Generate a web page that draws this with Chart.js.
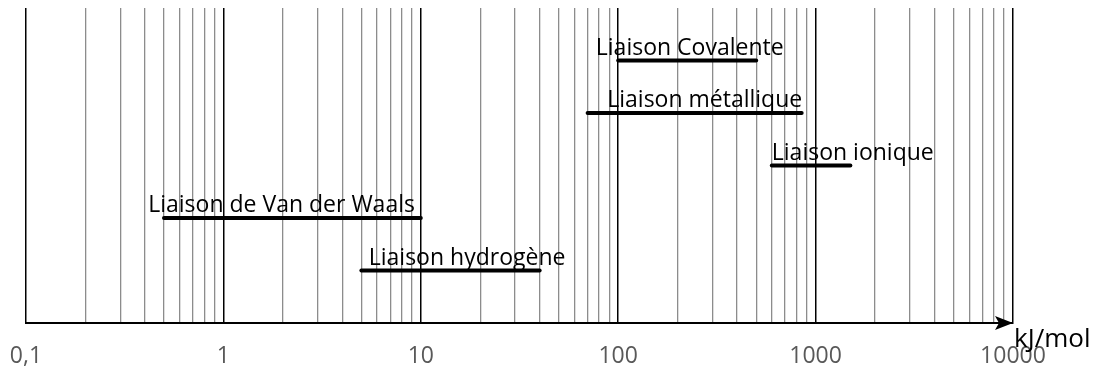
<!DOCTYPE html>
<html>
<head>
<meta charset="utf-8">
<script src="https://cdn.jsdelivr.net/npm/chart.js@4.4.1/dist/chart.umd.min.js"></script>
<style>
  html, body { margin: 0; padding: 0; background: #fff; }
  #wrap { width: 1097px; height: 372px; }
</style>
</head>
<body>
<div id="wrap"><canvas id="chart"></canvas></div>
<script>
// ===== Energies de liaison (kJ/mol) =====
const bondNames = ['Liaison Covalente', 'Liaison métallique', 'Liaison ionique', 'Liaison de Van der Waals', 'Liaison hydrogène'];
const bondMin = [100, 70, 600, 0.5, 5];
const bondMax = [500, 850, 1500, 10, 40];
const bondRow = [5, 4, 3, 2, 1];
// where each label starts, in kJ/mol
const labelAt = [77, 88, 600, 0.416, 5.45];
const majorTicks = [0.1, 1, 10, 100, 1000, 10000];
const tickLabels = ['0,1', '1', '10', '100', '1000', '10000'];
const unitLabel = 'kJ/mol';

const FONT = '"Open Sans", "Noto Sans", sans-serif';

function isMajor(v) {
    return majorTicks.some(m => Math.abs(v - m) < m * 1e-6);
}

const datasets = bondNames.map((name, i) => ({
    label: name,
    data: [{ x: bondMin[i], y: bondRow[i] }, { x: bondMax[i], y: bondRow[i] }],
    showLine: true,
    borderColor: '#000',
    borderWidth: 4,
    borderCapStyle: 'round',
    pointRadius: 0,
    pointHoverRadius: 0,
}));

const labelsPlugin = {
    id: 'bondLabels',
    afterDatasetsDraw(chart) {
        const { ctx, scales: { x, y } } = chart;
        ctx.save();
        ctx.font = `23px ${FONT}`;
        ctx.fillStyle = '#000';
        ctx.textAlign = 'left';
        ctx.textBaseline = 'alphabetic';
        bondNames.forEach((name, i) => {
            ctx.fillText(name, x.getPixelForValue(labelAt[i]), y.getPixelForValue(bondRow[i]) - 6);
        });
        ctx.restore();
    }
};

const arrowPlugin = {
    id: 'axisArrow',
    afterDraw(chart) {
        const { ctx, chartArea: a } = chart;
        const yb = a.bottom;
        ctx.save();
        ctx.fillStyle = '#000';
        ctx.beginPath();
        ctx.moveTo(a.right, yb);
        ctx.lineTo(a.right - 18, yb - 7);
        ctx.lineTo(a.right - 14, yb);
        ctx.lineTo(a.right - 18, yb + 7);
        ctx.closePath();
        ctx.fill();
        ctx.font = `26px ${FONT}`;
        ctx.textAlign = 'left';
        ctx.textBaseline = 'middle';
        ctx.fillText(unitLabel, a.right + 1, yb + 17);
        ctx.restore();
    }
};

new Chart(document.getElementById('chart'), {
    type: 'scatter',
    data: { datasets },
    options: {
        responsive: true,
        maintainAspectRatio: false,
        animation: false,
        layout: { padding: { left: 26, right: 84, top: 8, bottom: 0 } },
        plugins: { legend: { display: false }, tooltip: { enabled: false } },
        scales: {
            x: {
                type: 'logarithmic',
                min: 0.1,
                max: 10000,
                afterBuildTicks(scale) {
                    const ticks = [];
                    majorTicks.forEach((m, i) => {
                        if (i === majorTicks.length - 1) { ticks.push({ value: m }); return; }
                        for (let k = 1; k <= 9; k++) ticks.push({ value: +(m * k).toPrecision(6) });
                    });
                    scale.ticks = ticks;
                },
                afterFit(scale) {
                    scale.height = 49;
                    scale.paddingLeft = 0;
                    scale.paddingRight = 0;
                },
                border: { color: '#000', width: 2 },
                grid: {
                    drawTicks: false,
                    color: c => isMajor(c.tick.value) ? '#000' : '#8c8c8c',
                    lineWidth: c => isMajor(c.tick.value) ? 1.5 : 1.3,
                },
                ticks: {
                    autoSkip: false,
                    maxRotation: 0,
                    padding: 20,
                    color: '#595959',
                    font: { family: FONT, size: 23 },
                    callback: v => {
                        const i = majorTicks.findIndex(m => Math.abs(v - m) < m * 1e-6);
                        return i >= 0 ? tickLabels[i] : '';
                    }
                }
            },
            y: {
                type: 'linear',
                min: 0,
                max: 6,
                display: false,
            }
        }
    },
    plugins: [labelsPlugin, arrowPlugin]
});
</script>
</body>
</html>
